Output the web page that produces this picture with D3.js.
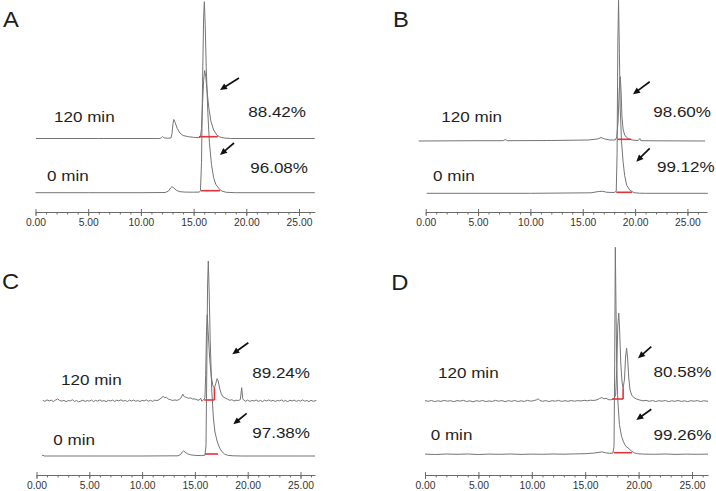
<!DOCTYPE html>
<html>
<head>
<meta charset="utf-8">
<script src="https://cdn.jsdelivr.net/npm/d3@7"></script>
<style>
  body { margin: 0; background: #fff; }
  svg { display: block; font-family: "Liberation Sans", Arial, sans-serif; }
</style>
</head>
<body>
<script>
// ---------------- DATA ----------------
const panelLetters = ["A", "B", "C", "D"];
const timeLabels = ["120 min", "0 min"];
const purities = [["88.42%", "96.08%"], ["98.60%", "99.12%"], ["89.24%", "97.38%"], ["80.58%", "99.26%"]];
const xTicks = [0, 5, 10, 15, 20, 25];
const tickLabels = ["0.00", "5.00", "10.00", "15.00", "20.00", "25.00"];

// Chromatogram traces: [retention time (min), signal above trace baseline]
const traceA120 = [[0.05,0],[6,0],[11.8,0],[11.95,0.8],[12.07,2],[12.2,0.6],[12.5,0.3],[12.85,0.5],[12.95,5],[13.05,15],[13.12,19],[13.25,16],[13.45,10],[13.7,5.5],[14.0,3],[14.5,1.8],[15.0,1.2],[15.5,0.8],[15.65,1.5],[15.75,10],[15.85,35],[15.95,58],[16.05,68],[16.15,62],[16.3,45],[16.45,30],[16.65,17],[16.9,8.5],[17.2,3.5],[17.5,1.5],[17.9,0.5],[18.5,0],[26.5,0]];
const traceA0 = [[0,0],[5,0],[10,0],[12.3,0.2],[12.6,1.5],[12.8,4.5],[12.95,6],[13.1,5],[13.35,2.5],[13.7,1],[14.2,0.6],[15.0,0.5],[15.55,0.6],[15.65,2],[15.75,30],[15.85,110],[15.95,175],[16.02,191],[16.1,168],[16.2,125],[16.35,80],[16.5,50],[16.7,28],[16.9,15],[17.1,8.5],[17.4,4],[17.7,1.5],[18.1,0.4],[19,0],[26.5,0]];

const traceB120 = [[-0.67,0],[5,0.3],[7.4,0.3],[7.6,1.5],[7.8,0.3],[12,0.5],[15.5,1],[16.4,2],[16.75,3.5],[17.1,2],[17.6,1],[18.1,1],[18.25,4],[18.38,20],[18.48,50],[18.58,64.3],[18.66,50],[18.74,25],[18.85,12],[19.0,6],[19.3,2.5],[19.7,1],[20.3,0.5],[20.45,2.5],[20.55,0.3],[22,0.2],[26.68,0]];
const traceB0 = [[0.1,0],[10,0],[15.8,0.5],[16.5,1.8],[16.9,2],[17.3,1],[18.0,0.8],[18.2,2],[18.28,40],[18.35,150],[18.42,193],[18.5,140],[18.58,85],[18.7,52],[18.85,32],[19.0,18],[19.2,8],[19.5,3],[19.9,0.6],[20.4,0.1],[21,0],[26.95,0]];

const traceC120 = [[0.6,0.3],[0.8,-0.6],[1.0,0.8],[1.2,-0.2],[1.4,0.5],[1.6,-0.8],[1.8,0.6],[2.0,1.8],[2.2,0.2],[2.4,-0.5],[2.6,0.4],[2.8,-1.0],[3.0,0.2],[3.2,-0.3],[3.4,0.9],[3.6,-0.7],[3.8,0.1],[4.0,-1.2],[4.2,-0.4],[4.4,0.6],[4.6,-0.8],[4.8,0.2],[5.0,-0.5],[5.2,0.7],[5.4,-0.9],[5.6,0.3],[5.8,-0.4],[6.0,0.8],[6.2,-0.6],[6.4,0.2],[6.6,-1.0],[6.8,0.4],[7.0,-0.3],[7.2,0.6],[7.4,-0.7],[7.6,0.5],[7.8,-0.2],[8.0,0.9],[8.2,-0.5],[8.4,0.3],[8.6,-0.8],[8.8,0.5],[9.0,-0.3],[9.2,0.7],[9.4,-0.6],[9.6,0.2],[9.8,-0.9],[10.0,0.4],[10.2,-0.2],[10.4,0.8],[10.6,-0.5],[10.8,0.3],[11.0,-0.7],[11.2,0.6],[11.4,0.0],[11.6,1.0],[11.8,2.5],[12.0,4.5],[12.15,2.8],[12.3,3.5],[12.5,1.5],[12.7,1.0],[12.9,0.2],[13.1,0.8],[13.3,0.3],[13.5,1.2],[13.7,3.0],[13.85,6.5],[14.0,4.0],[14.2,3.2],[14.4,2.4],[14.6,2.8],[14.8,1.6],[15.0,1.8],[15.2,0.8],[15.4,0.5],[15.55,2.5],[15.65,-0.5],[15.8,0.5],[15.95,3],[16.02,25],[16.1,70],[16.17,86],[16.25,70],[16.4,42],[16.55,24],[16.7,15],[16.85,12.7],[16.97,17],[17.1,22],[17.2,20],[17.35,12],[17.5,7],[17.65,4],[17.9,2.5],[18.1,1.5],[18.3,0.4],[18.5,1.0],[18.7,-0.3],[18.9,0.5],[19.1,0.2],[19.3,1.0],[19.43,13],[19.53,2],[19.65,0.3],[19.8,-0.5],[20.0,0.6],[20.2,-0.8],[20.4,0.3],[20.6,-0.4],[20.8,0.7],[21.0,-0.6],[21.2,0.2],[21.4,-0.9],[21.6,0.5],[21.8,-0.3],[22.0,0.8],[22.2,-0.5],[22.4,0.4],[22.6,-0.8],[22.8,0.3],[23.0,-0.2],[23.2,0.7],[23.4,-0.6],[23.6,0.2],[23.8,-1.0],[24.0,0.5],[24.2,-0.3],[24.4,0.6],[24.6,-0.7],[24.8,0.3],[25.0,-0.4],[25.2,0.8],[25.4,-0.5],[25.6,0.2],[25.8,-0.9],[26.0,0.4],[26.2,-0.6],[26.5,0.3]];
const traceC0 = [[0.5,0],[0.6,0.8],[0.75,0],[5,0],[10,0],[13.4,0.2],[13.65,1.5],[13.8,4],[13.92,5],[14.05,4],[14.3,2.2],[14.6,1.2],[15.0,0.6],[15.6,0.4],[15.95,0.8],[16.05,10],[16.12,80],[16.2,170],[16.27,195],[16.35,165],[16.45,115],[16.6,65],[16.75,38],[16.9,24],[17.1,15],[17.3,9],[17.55,4.5],[17.8,2],[18.1,0.7],[18.6,0.2],[19.5,0],[26.37,0]];

const traceD120 = [[0,0.4],[0.3,-0.3],[0.6,0.5],[0.9,-0.6],[1.2,0.2],[1.5,-0.4],[1.8,0.6],[2.1,-0.2],[2.4,0.3],[2.7,-0.7],[3.0,0.4],[3.3,-0.1],[3.6,0.6],[3.9,-0.5],[4.2,0.2],[4.5,-0.8],[4.8,0.3],[5.1,-0.3],[5.4,0.5],[5.7,-0.6],[6.0,0.1],[6.3,-0.4],[6.6,0.6],[6.9,-0.2],[7.2,0.4],[7.5,-0.6],[7.8,0.3],[8.1,-0.3],[8.4,0.5],[8.7,-0.5],[9.0,0.2],[9.3,-0.4],[9.6,0.6],[9.9,-0.2],[10.2,0.4],[10.45,1.2],[10.6,2.2],[10.75,0.6],[11.0,-0.3],[11.3,0.4],[11.6,-0.5],[11.9,0.3],[12.2,-0.2],[12.5,0.6],[12.8,-0.4],[13.1,0.3],[13.4,-0.3],[13.7,0.5],[14.0,-0.2],[14.3,0.4],[14.6,0.0],[14.9,0.7],[15.2,0.2],[15.5,0.8],[15.8,0.5],[16.1,1.2],[16.35,2.5],[16.55,3.5],[16.75,2.2],[16.95,2.8],[17.15,1.4],[17.35,1.2],[17.55,1.5],[17.7,2.5],[17.85,6],[17.95,30],[18.05,75],[18.14,88],[18.22,72],[18.33,38],[18.45,19],[18.55,12.7],[18.68,22],[18.78,44],[18.88,52.7],[18.97,43],[19.08,23],[19.2,11],[19.35,6],[19.55,3.5],[19.8,2],[20.1,1.0],[20.4,0.2],[20.7,0.6],[21.0,-0.3],[21.3,0.4],[21.6,-0.5],[21.9,0.3],[22.2,-0.2],[22.5,0.5],[22.8,-0.6],[23.1,0.2],[23.4,-0.3],[23.7,0.5],[24.0,-0.4],[24.3,0.2],[24.6,-0.6],[24.9,0.3],[25.2,-0.2],[25.5,0.4],[25.8,-0.5],[26.1,0.2],[26.5,-0.3]];
const traceD0 = [[0,0.2],[1,-0.2],[2,0.3],[3,0],[4,0.3],[5,-0.2],[6,0.2],[7,0],[8,0.3],[9,-0.1],[10,0.2],[11,0],[12,0.3],[13,0.1],[14,0.4],[15,0.6],[15.8,1.2],[16.3,2.0],[16.6,2.4],[16.9,1.5],[17.3,1.0],[17.6,1.2],[17.7,8],[17.76,90],[17.82,207],[17.88,150],[17.95,90],[18.05,55],[18.2,30],[18.4,18],[18.6,12],[18.8,8],[19.0,6.5],[19.17,5],[19.35,3],[19.6,1.5],[19.9,0.6],[20.5,0.2],[21.5,0],[22.5,0.3],[23.5,-0.1],[24.5,0.2],[25.5,0],[26.5,0.2]];

// Integration marks (red): [start, end, level, dropTime|null, dropTop|null]
const integA = [[15.5, 17.3, 1.8, null, null], [15.7, 17.5, 2, null, null]];
const integB = [[18.3, 19.63, 1.7, null, null], [18.2, 19.7, 1, null, null]];
const integC = [[15.89, 16.85, 0.7, 16.85, 12.7], [15.96, 17.2, 2, null, null]];
const integD = [[17.52, 18.55, 2, 18.55, 12.7], [17.7, 19.38, 1.6, null, null]];

// ---------------- LAYOUT (pixels) ----------------
const layout = [
  { traces: [traceA120, traceA0], integ: integA, x0: 35.5, xMax: 26.5, pxPerMin: 10.54, axisY: 212, base0: 192.7, base120: 138.5,
    letter: [3, 27], t120: [54, 121.7], t0: [47, 180.5], p120: [306, 116.7], p0: [308, 172.5],
    arrows: [[239, 78, 220, 90], [234, 143, 220, 155]] },
  { traces: [traceB120, traceB0], integ: integB, x0: 425.7, xMax: 26.87, pxPerMin: 10.47, axisY: 212, base0: 193.3, base120: 141,
    letter: [393, 27], t120: [441.3, 121.7], t0: [433, 180.5], p120: [711, 116.7], p0: [714.7, 171.7],
    arrows: [[649.7, 81.7, 633, 94.3], [649.7, 148.3, 636.3, 161.7]] },
  { traces: [traceC120, traceC0], integ: integC, x0: 36.5, xMax: 26.37, pxPerMin: 10.56, axisY: 475, base0: 456, base120: 400.7,
    letter: [2, 288.5], t120: [61, 385], t0: [53.3, 445], p120: [310, 378.3], p0: [310, 438.3],
    arrows: [[248.3, 342.7, 232.3, 354.3], [246.7, 413.3, 233.3, 424.3]] },
  { traces: [traceD120, traceD0], integ: integD, x0: 425, xMax: 26.5, pxPerMin: 10.68, axisY: 475, base0: 454.3, base120: 401,
    letter: [391.3, 290], t120: [438, 378.3], t0: [430.7, 440], p120: [711.3, 376.7], p0: [711.3, 440],
    arrows: [[651.3, 346.7, 638, 358.3], [651.3, 409.3, 636.3, 420]] }
];

const traceColor = "#757575";
const axisColor = "#6a6a6a";
const redColor = "#e5323a";
const textColor = "#1e1e1e";

// ---------------- DRAW ----------------
const svg = d3.select("body").append("svg").attr("width", 716).attr("height", 491);

function addText(g, pos, str, size, anchor, sx) {
  g.append("text")
    .attr("transform", `translate(${pos[0]},${pos[1]}) scale(${sx},1)`)
    .attr("text-anchor", anchor)
    .attr("font-size", size)
    .attr("fill", textColor)
    .text(str);
}

layout.forEach((L, i) => {
  const g = svg.append("g");
  const x = d3.scaleLinear().domain([0, L.xMax]).range([L.x0, L.x0 + L.xMax * L.pxPerMin]);
  const y = d3.scaleLinear().domain([0, 100]).range([L.base0, L.base0 - 100]);
  const offsets = [L.base0 - L.base120, 0];

  // axis: minor ticks
  const minor = g.append("g").attr("transform", `translate(0,${L.axisY})`)
    .call(d3.axisBottom(x).tickValues(d3.range(0, Math.floor(L.xMax) + 1)).tickSize(2.5).tickSizeOuter(0).tickFormat(""));
  minor.select(".domain").attr("stroke", axisColor);
  minor.selectAll(".tick line").attr("stroke", axisColor);

  const major = g.append("g").attr("transform", `translate(0,${L.axisY})`)
    .call(d3.axisBottom(x).tickValues(xTicks).tickSize(4).tickSizeOuter(0).tickFormat((d, k) => tickLabels[k]));
  major.select(".domain").remove();
  major.selectAll(".tick line").attr("stroke", axisColor).attr("y1", -3);
  major.selectAll(".tick text").attr("y", 6.5).attr("fill", "#333")
    .attr("font-size", 10.3).attr("font-family", "'Liberation Sans', Arial, sans-serif");

  // traces
  L.traces.forEach((tr, k) => {
    const line = d3.line().x(d => x(d[0])).y(d => y(d[1] + offsets[k]));
    g.append("path").datum(tr).attr("d", line)
      .attr("fill", "none").attr("stroke", traceColor).attr("stroke-width", 1)
      .attr("stroke-linejoin", "round");
  });

  // integration marks
  L.integ.forEach((m, k) => {
    const off = offsets[k];
    g.append("line")
      .attr("x1", x(m[0])).attr("x2", x(m[1]))
      .attr("y1", y(m[2] + off)).attr("y2", y(m[2] + off))
      .attr("stroke", redColor).attr("stroke-width", 1.6);
    if (m[3] !== null) {
      g.append("line")
        .attr("x1", x(m[3])).attr("x2", x(m[3]))
        .attr("y1", y(m[2] + off)).attr("y2", y(m[4] + off))
        .attr("stroke", redColor).attr("stroke-width", 1.6);
    }
  });

  // arrows
  L.arrows.forEach(a => {
    const [x1, y1, x2, y2] = a;
    const dx = x2 - x1, dy = y2 - y1, len = Math.hypot(dx, dy);
    const ux = dx / len, uy = dy / len;
    const hl = 7, hw = 3.2;
    const bx = x2 - ux * hl, by = y2 - uy * hl;
    g.append("line").attr("x1", x1).attr("y1", y1).attr("x2", bx + ux).attr("y2", by + uy)
      .attr("stroke", "#111").attr("stroke-width", 1.7);
    g.append("path")
      .attr("d", `M${x2},${y2}L${bx - uy * hw},${by + ux * hw}L${bx + uy * hw},${by - ux * hw}Z`)
      .attr("fill", "#111");
  });

  // texts
  addText(g, L.letter, panelLetters[i], 22, "start", 1.08);
  addText(g, L.t120, timeLabels[0], 15.5, "start", 1.1);
  addText(g, L.t0, timeLabels[1], 15.5, "start", 1.1);
  addText(g, L.p120, purities[i][0], 15.5, "end", 1.1);
  addText(g, L.p0, purities[i][1], 15.5, "end", 1.1);
});
</script>
</body>
</html>
